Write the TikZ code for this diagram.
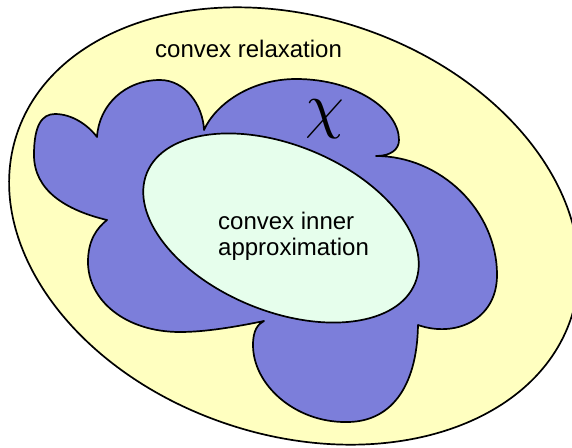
\documentclass[tikz,border=0pt]{standalone}
\usepackage{fontspec}
\setmainfont{Liberation Sans}
\definecolor{relaxfill}{RGB}{255,255,192}
\definecolor{setfill}{RGB}{124,126,218}
\definecolor{innerfill}{RGB}{230,254,236}
\tikzset{region/.style={draw=black,line width=1.7pt,line join=round},
	setlabel/.style={inner sep=0pt,font=\fontsize{24}{26}\selectfont}}

\begin{document}
\begin{tikzpicture}[x=1pt,y=-1pt]
				\useasboundingbox (0,0) rectangle (572,447);
				% the convex relaxation, a tilted ellipse round everything
				\filldraw[region,fill=relaxfill,shift={(294,226)},rotate=-18.35]
					(0,0) ellipse [x radius=292,y radius=209];
				% the set itself: six lobes that meet in cusps
				\filldraw[region,fill=setfill]
					(97,137) .. controls (99,105) and (125,80) .. (160,80)
					.. controls (185,80) and (203,105) .. (204,130)
					.. controls (215,105) and (250,79) .. (296,79)
					.. controls (355,79) and (399,110) .. (399,140)
					.. controls (399,150) and (390,156) .. (376,156)
					.. controls (440,156) and (497,210) .. (497,275)
					.. controls (497,320) and (455,338) .. (418,325)
					.. controls (417,388) and (390,423) .. (345,422)
					.. controls (295,422) and (253,385) .. (253,345)
					.. controls (253,330) and (258,324) .. (264,321)
					.. controls (235,327) and (205,332) .. (180,332)
					.. controls (125,332) and (88,300) .. (88,262)
					.. controls (88,240) and (97,228) .. (107,220)
					.. controls (65,210) and (34,190) .. (34,155)
					.. controls (34,125) and (42,114) .. (55,114)
					.. controls (72,114) and (88,125) .. (97,137) -- cycle;
				% the inner approximation, convex again
				\filldraw[region,fill=innerfill,shift={(281,228)},rotate=-22.4]
					(0,0) ellipse [x radius=145,y radius=83];
				\node[setlabel,anchor=base west] (relaxlabel) at (155,57) {convex relaxation};
				\node[inner sep=0pt,scale=6.2] (chilabel) at (325,119) {$\chi$};
				\node[setlabel,anchor=base west,align=left] (innerlabel) at (218,255) {convex inner\\approximation};
			\end{tikzpicture}
\end{document}
